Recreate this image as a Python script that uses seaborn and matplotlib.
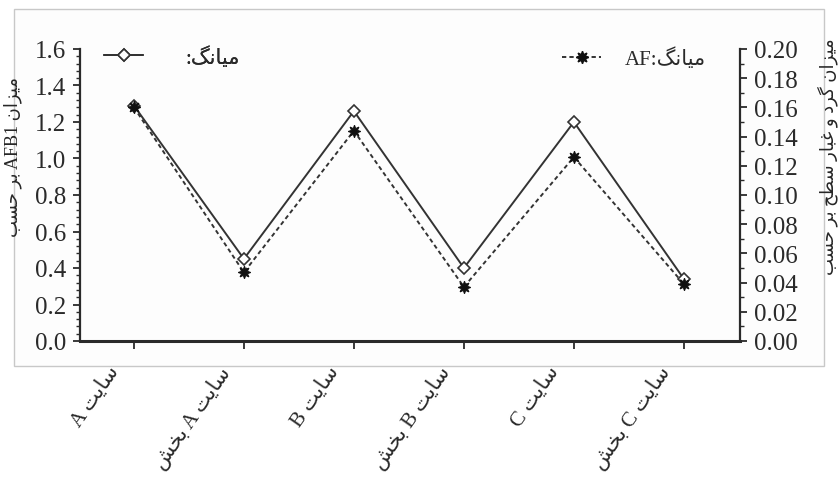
import re
import numpy as np
import pandas as pd
import matplotlib
matplotlib.use("Agg")
import matplotlib.pyplot as plt
import matplotlib.transforms as mtransforms
from matplotlib.lines import Line2D
from matplotlib.patches import Rectangle
from matplotlib.ticker import MultipleLocator, AutoMinorLocator
import seaborn as sns

# data
categories = ["سایت A", "سایت A بخش", "سایت B", "سایت B بخش", "سایت C", "سایت C بخش"]
afb1 = [1.29, 0.45, 1.26, 0.40, 1.20, 0.34]          # left axis, solid line
dust = [0.160, 0.047, 0.144, 0.037, 0.126, 0.039]     # right axis, dashed line

left_label = "میزان AFB1 بر حسب"
right_label = "میزان گرد و غبار سطح بر حسب"
legend_left = "میانگ:"
legend_right = "میانگ:AF"

# matplotlib has no arabic shaping, so do a small one by hand
FORMS = {
    'ا': (0xFE8D, 0xFE8E), 'د': (0xFEA9, 0xFEAA), 'ر': (0xFEAD, 0xFEAE),
    'ز': (0xFEAF, 0xFEB0), 'و': (0xFEED, 0xFEEE),
    'ب': (0xFE8F, 0xFE90, 0xFE91, 0xFE92), 'ت': (0xFE95, 0xFE96, 0xFE97, 0xFE98),
    'ح': (0xFEA1, 0xFEA2, 0xFEA3, 0xFEA4), 'خ': (0xFEA5, 0xFEA6, 0xFEA7, 0xFEA8),
    'س': (0xFEB1, 0xFEB2, 0xFEB3, 0xFEB4), 'ش': (0xFEB5, 0xFEB6, 0xFEB7, 0xFEB8),
    'ط': (0xFEC1, 0xFEC2, 0xFEC3, 0xFEC4), 'غ': (0xFECD, 0xFECE, 0xFECF, 0xFED0),
    'م': (0xFEE1, 0xFEE2, 0xFEE3, 0xFEE4), 'ن': (0xFEE5, 0xFEE6, 0xFEE7, 0xFEE8),
    'ی': (0xFBFC, 0xFBFD, 0xFBFE, 0xFBFF), 'گ': (0xFB92, 0xFB93, 0xFB94, 0xFB95),
}


def shape(word):
    out = []
    for i, ch in enumerate(word):
        f = FORMS.get(ch)
        if f is None:
            out.append(ch)
            continue
        prev = word[i - 1] if i > 0 else ''
        nxt = word[i + 1] if i + 1 < len(word) else ''
        a = prev in FORMS and len(FORMS[prev]) == 4
        b = len(f) == 4 and nxt in FORMS
        k = 3 if (a and b) else 1 if a else 2 if b else 0
        out.append(chr(f[k]))
    return ''.join(out)


def fa(text):
    # rough bidi for a right-to-left line
    runs = re.findall(r'[\u0600-\u06FF]+|[A-Za-z0-9.]+|[^\u0600-\u06FFA-Za-z0-9.]', text)
    vis = []
    for r in reversed(runs):
        if '\u0600' <= r[0] <= '\u06FF':
            vis.append(shape(r)[::-1])
        else:
            vis.append(r)
    return ''.join(vis)


sns.set_theme(style="ticks")
plt.rcParams['font.family'] = ['Liberation Serif', 'DejaVu Sans']
ink = '#2a2a2a'
plt.rcParams['text.color'] = ink
plt.rcParams['axes.edgecolor'] = ink
plt.rcParams['xtick.color'] = ink
plt.rcParams['ytick.color'] = ink

df = pd.DataFrame({'pos': np.arange(len(categories)), 'afb1': afb1, 'dust': dust})

fig = plt.figure(figsize=(8.38, 4.81), dpi=100)
fig.patches.append(Rectangle((14 / 838, 1 - 367 / 481), 810 / 838, 357 / 481,
                             transform=fig.transFigure, facecolor='#fdfdfd',
                             edgecolor='#c8c8c8', lw=1.0, zorder=-10))
ax = fig.add_axes([80 / 838, 1 - 342 / 481, 660 / 838, 292 / 481])
ax.patch.set_alpha(0)
ax2 = ax.twinx()

sns.lineplot(data=df, x='pos', y='afb1', ax=ax, color='#333333', lw=1.4,
             marker='D', markersize=6, markerfacecolor='white',
             markeredgecolor='#333333', markeredgewidth=1.2, sort=False)
sns.lineplot(data=df, x='pos', y='dust', ax=ax2, color='#333333', lw=1.4,
             linestyle=(0, (2.2, 1.6)), marker=(8, 1, 0), markersize=9,
             markerfacecolor='#111111', markeredgecolor='#111111', sort=False)

ax.set_xlim(-0.49, 5.51)
ax.set_ylim(0, 1.6)
ax2.set_ylim(0, 0.2)
ax.yaxis.set_major_locator(MultipleLocator(0.2))
ax.yaxis.set_minor_locator(AutoMinorLocator(5))
ax2.yaxis.set_major_locator(MultipleLocator(0.02))
ax2.yaxis.set_minor_locator(AutoMinorLocator(2))
ax.yaxis.set_major_formatter('{x:.1f}')
ax2.yaxis.set_major_formatter('{x:.2f}')

for a in (ax, ax2):
    a.spines['top'].set_visible(False)
    for s in a.spines.values():
        s.set_linewidth(1.6)
    a.tick_params(axis='y', which='major', length=5, width=1.3, labelsize=18, pad=5)
    a.tick_params(axis='y', which='minor', length=3, width=1.0)
    a.set_xlabel('')
ax.spines['right'].set_visible(False)
ax2.spines['left'].set_visible(False)
ax2.spines['bottom'].set_visible(False)
ax.spines['bottom'].set_linewidth(2.2)

ax.set_xticks(df['pos'])
ax.set_xticklabels([fa(c) for c in categories], rotation=55, ha='right',
                   va='center', rotation_mode='anchor', fontsize=15)
ax.tick_params(axis='x', length=6, width=1.3, pad=6)
shift = mtransforms.ScaledTranslation(-18 / 100, -10 / 100, fig.dpi_scale_trans)
for lab in ax.get_xticklabels():
    lab.set_transform(lab.get_transform() + shift)

ax.set_ylabel(fa(left_label), fontsize=13)
ax.yaxis.set_label_coords(-0.088, 0.634)
ax2.set_ylabel(fa(right_label), fontsize=13, rotation=90)
ax2.yaxis.set_label_coords(1.117, 0.634)

h1 = Line2D([], [], color='#333333', lw=1.4, marker='D', markersize=6,
            markerfacecolor='white', markeredgecolor='#333333', markeredgewidth=1.2)
h2 = Line2D([], [], color='#333333', lw=1.4, linestyle=(0, (2.2, 1.6)),
            marker=(8, 1, 0), markersize=9, markerfacecolor='#111111',
            markeredgecolor='#111111')
leg1 = ax.legend([h1], [fa(legend_left)], loc='center left',
                 bbox_to_anchor=(0.036, 0.973), frameon=False, borderpad=0,
                 borderaxespad=0, handlelength=1.9, handletextpad=2.0, fontsize=15)
ax.add_artist(leg1)
ax2.legend([h2], [fa(legend_right)], loc='center left',
           bbox_to_anchor=(0.730, 0.969), frameon=False, borderpad=0,
           borderaxespad=0, handlelength=1.9, handletextpad=1.1, fontsize=15)

fig.savefig('out.png', dpi=100)
